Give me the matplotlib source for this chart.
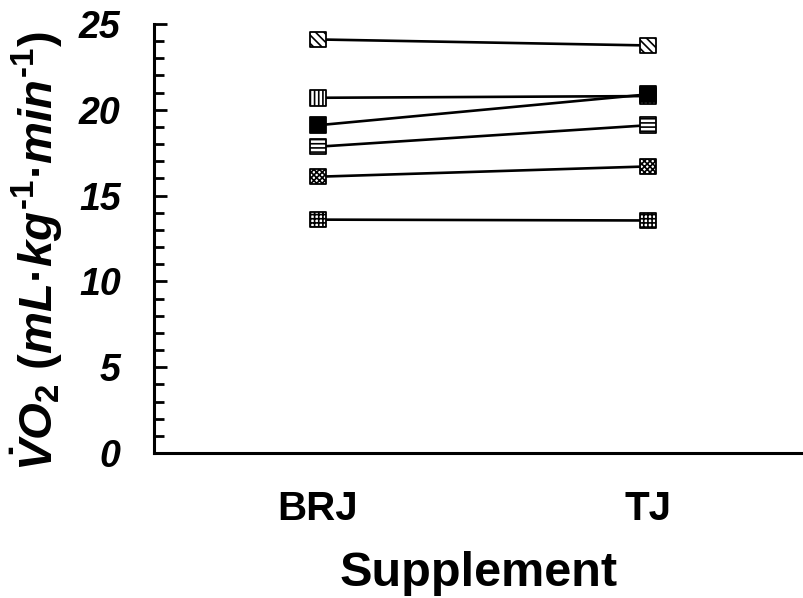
import matplotlib
matplotlib.use("Agg")
import matplotlib.pyplot as plt

plt.rcParams['font.family'] = ['Liberation Sans', 'DejaVu Sans']
plt.rcParams['mathtext.fontset'] = 'custom'
plt.rcParams['mathtext.it'] = 'Liberation Sans:bold:italic'
plt.rcParams['mathtext.rm'] = 'Liberation Sans:bold'
plt.rcParams['mathtext.bf'] = 'Liberation Sans:bold'
plt.rcParams['hatch.linewidth'] = 1.2

categories = ["BRJ", "TJ"]
series_brj = [24.1, 20.7, 19.1, 17.85, 16.1, 13.6]
series_tj = [23.75, 20.8, 20.9, 19.1, 16.7, 13.55]
hatches = ['\\\\\\\\', '||||', None, '----', 'xxxxxx', '++++']
fills = ['white', 'white', 'black', 'white', 'white', 'white']
yticks = [0, 5, 10, 15, 20, 25]

fig = plt.figure(figsize=(8.04, 5.98), dpi=100)
ax = fig.add_axes([154/804, (598-453)/598, 1 - 154/804, (453-24)/598])

xs = list(range(len(categories)))
for i in range(len(series_brj)):
    ys = [series_brj[i], series_tj[i]]
    ax.plot(xs, ys, color='black', lw=1.9, zorder=2)
for i in range(len(series_brj)):
    ys = [series_brj[i], series_tj[i]]
    ax.scatter(xs, ys, marker='s', s=125, facecolor=fills[i], edgecolor='black',
               linewidths=1.3, hatch=hatches[i], zorder=3 + (2 if fills[i] == 'black' else 0))

ax.set_xlim(-(318-154)/330, 1 + (804-648)/330)
ax.set_ylim(0, 25)
ax.spines['top'].set_visible(False)
ax.spines['right'].set_visible(False)
ax.spines['left'].set_linewidth(2.2)
ax.spines['bottom'].set_linewidth(2.2)

ax.set_xticks(xs)
ax.set_xticklabels(categories, fontsize=29, fontweight='bold')
ax.tick_params(axis='x', length=0, pad=27)
ax.set_yticks(yticks)
ax.set_yticks(range(0, 26), minor=True)
ax.set_yticklabels([str(v) for v in yticks], fontsize=27, fontweight='bold', fontstyle='italic')
ax.tick_params(axis='y', which='major', direction='in', length=9, width=2, pad=24)
ax.tick_params(axis='y', which='minor', direction='in', length=7, width=2)

ax.set_xlabel("Supplement", fontsize=35, fontweight='bold', labelpad=16)
ax.set_ylabel(r"$\dot{\mathit{V}}\mathit{O}_{\mathrm{2}}\ \mathit{(mL\u00b7kg^{\u20101}\u00b7min^{\u20101})}$".replace('\\u00b7', '\u00b7').replace('\\u2010', '\u2010'),
              fontsize=34)
ax.yaxis.label.set_va('center')
ax.yaxis.set_label_coords(-0.18, 0.47)

fig.savefig("out.png", dpi=100)
